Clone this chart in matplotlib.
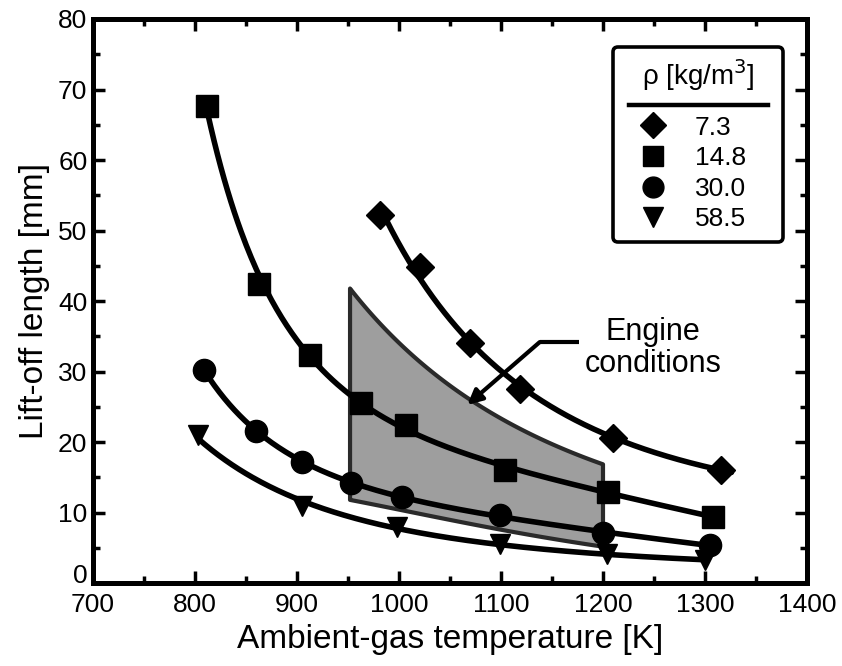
import numpy as np
import matplotlib
matplotlib.use("Agg")
import matplotlib.pyplot as plt
from matplotlib.lines import Line2D
from matplotlib.transforms import ScaledTranslation

plt.rcParams['font.family'] = ['Liberation Sans', 'DejaVu Sans']

# ---- data ----
T_73 = [981, 1021, 1070, 1119, 1210, 1316]
L_73 = [52.2, 44.9, 34.0, 27.6, 20.6, 16.1]

T_148 = [812, 863, 913, 963, 1007, 1104, 1205, 1308]
L_148 = [67.6, 42.5, 32.4, 25.5, 22.4, 16.1, 13.0, 9.4]

T_300 = [809, 860, 905, 953, 1003, 1099, 1200, 1305]
L_300 = [30.3, 21.6, 17.2, 14.2, 12.3, 9.7, 7.1, 5.4]

T_585 = [803, 905, 998, 1099, 1204, 1300]
L_585 = [21.0, 11.0, 8.0, 5.6, 4.1, 3.3]

density_labels = ['7.3', '14.8', '30.0', '58.5']

# engine-condition region boundary
engine_T_top = [952, 998, 1070, 1145, 1200]
engine_L_top = [41.6, 34.8, 25.6, 20.3, 16.8]
engine_T_bot = [952, 1003, 1099, 1200]
engine_L_bot = [11.8, 10.4, 7.6, 5.2]

# annotation arrow path (T, L)
arrow_T = [1176, 1138, 1067]
arrow_L = [34.2, 34.2, 25.3]
label_T, label_L = 1249, 33.4

x_ticks = [700, 800, 900, 1000, 1100, 1200, 1300, 1400]
y_ticks = [0, 10, 20, 30, 40, 50, 60, 70, 80]


def smooth(T, L, t0, t1, deg=2):
    c = np.polyfit(np.log(T), np.log(L), deg)
    tt = np.linspace(t0, t1, 300)
    return tt, np.exp(np.polyval(c, np.log(tt)))


fig = plt.figure(figsize=(8.42, 6.66), dpi=100)
W, H = 842.0, 666.0
ax = fig.add_axes([93 / W, 1 - 583.3 / H, 714 / W, 564.3 / H])

# engine conditions region
tt_top, ll_top = smooth(engine_T_top, engine_L_top, engine_T_top[0], engine_T_top[-1])
tt_bot, ll_bot = smooth(engine_T_bot, engine_L_bot, engine_T_bot[0], engine_T_bot[-1])
poly_T = np.concatenate([tt_top, tt_bot[::-1]])
poly_L = np.concatenate([ll_top, ll_bot[::-1]])
ax.fill(poly_T, poly_L, facecolor='#9e9e9e', edgecolor='#2a2a2a', lw=3,
        joinstyle='round', zorder=1)

series = [
    (T_73, L_73, 'D', 14, 10, 2),
    (T_148, L_148, 's', 16, 0, 3),
    (T_300, L_300, 'o', 16, 0, 3),
    (T_585, L_585, 'v', 15, 0, 2),
]
handles = []
for T, L, m, ms, ext, deg in series:
    tt, ll = smooth(T, L, T[0], T[-1] + ext, deg)
    ax.plot(tt, ll, color='black', lw=4, solid_capstyle='round', zorder=3)
    ax.plot(T, L, ls='none', marker=m, ms=ms, color='black', zorder=4)
    handles.append(Line2D([], [], ls='none', marker=m, ms=ms - 1, color='black'))

# annotation
ax.plot(arrow_T[:2], arrow_L[:2], color='black', lw=3, solid_capstyle='butt', zorder=5)
ax.annotate('', xy=(arrow_T[2], arrow_L[2]), xytext=(arrow_T[1], arrow_L[1]),
            arrowprops=dict(arrowstyle='-|>', lw=3, color='black',
                            mutation_scale=22, shrinkA=0, shrinkB=0), zorder=5)
ax.text(label_T, label_L, 'Engine\nconditions', ha='center', va='center',
        fontsize=22, linespacing=1.1)

ax.set_xlim(700, 1400)
ax.set_ylim(0, 80)
ax.set_xticks(x_ticks)
ax.set_yticks(y_ticks)
ax.set_xticks(np.arange(750, 1400, 100), minor=True)
ax.set_yticks(np.arange(5, 80, 10), minor=True)
ax.tick_params(which='both', direction='in', top=True, right=True, width=2.5,
               labelsize=19)
ax.tick_params(axis='x', which='major', pad=7)
ax.tick_params(axis='y', which='major', pad=4)
ax.tick_params(which='major', length=8.5)
ax.tick_params(which='minor', length=5)
for s in ax.spines.values():
    s.set_linewidth(3.6)

ax.set_xlabel('Ambient-gas temperature [K]', fontsize=24, labelpad=5)
ax.set_ylabel('Lift-off length [mm]', fontsize=24, labelpad=6)

leg = ax.legend(handles, density_labels, title='ρ [kg/m$^3$]',
                loc='upper left',
                bbox_to_anchor=(613 / W, 1 - 243 / H, 170 / W, 196 / H),
                bbox_transform=fig.transFigure, mode='expand', borderaxespad=0,
                fontsize=19, title_fontsize=20, handlelength=2.2,
                handletextpad=0.5, labelspacing=0.25, borderpad=0.4,
                frameon=True, fancybox=True, framealpha=1)
leg.get_frame().set_edgecolor('black')
leg.get_frame().set_linewidth(2.6)
leg._legend_box.sep = 16
leg.set_zorder(10)

fig.canvas.draw()
# lift the "0" y tick label slightly, as in the reference
lab0 = ax.yaxis.get_major_ticks()[0].label1
lab0.set_transform(lab0.get_transform() + ScaledTranslation(0, 7 / 72, fig.dpi_scale_trans))

r = fig.canvas.get_renderer()
tb = leg.get_title().get_window_extent(r)
fb = leg.get_frame().get_window_extent(r)
hb = leg._legend_handle_box.get_window_extent(r)
y_line = (tb.y0 + hb.y1) / 2
fig.add_artist(Line2D([(fb.x0 + 16) / W, (fb.x1 - 15) / W], [y_line / H, y_line / H],
                      color='black', lw=3.2, transform=fig.transFigure, zorder=11))

fig.savefig('out.png', dpi=100)
